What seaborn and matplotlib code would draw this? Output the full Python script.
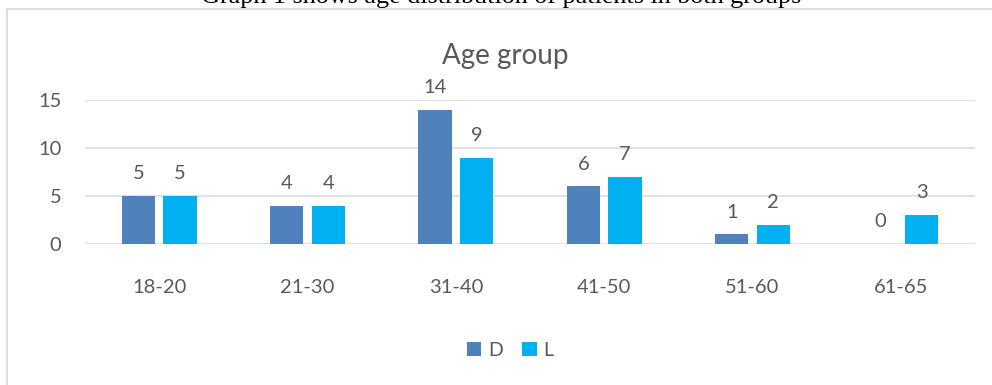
import matplotlib
matplotlib.use("Agg")
import matplotlib.pyplot as plt
from matplotlib.lines import Line2D
from matplotlib.patches import Patch
import seaborn as sns
import pandas as pd

# ---- data ----
categories = ["18-20", "21-30", "31-40", "41-50", "51-60", "61-65"]
d_values = [5, 4, 14, 6, 1, 0]
l_values = [5, 4, 9, 7, 2, 3]
series_names = ["D", "L"]
y_ticks = [0, 5, 10, 15]
chart_title = "Age group"
caption = "Graph 1 shows age distribution of patients in both groups"

colors = {"D": "#4F81BD", "L": "#00B0F0"}
text_color = "#595959"
grid_color = "#D9D9D9"

df = pd.DataFrame({
    "category": categories * 2,
    "series": [series_names[0]] * len(categories) + [series_names[1]] * len(categories),
    "value": d_values + l_values,
})

sns.set_theme(style="white")
plt.rcParams["font.family"] = ["Lato", "DejaVu Sans"]

fig = plt.figure(figsize=(9.92, 3.85), dpi=100)
ax = fig.add_axes([85 / 992, 1 - 244 / 385, (975 - 85) / 992, (244 - 100) / 385])

sns.barplot(data=df, x="category", y="value", hue="series", order=categories,
            hue_order=series_names, palette=colors, width=0.56, gap=0.2,
            linewidth=0, saturation=1, ax=ax, legend=False)

ax.set_ylim(0, 15)
ax.set_xlim(-0.5, len(categories) - 0.5)
ax.set_yticks(y_ticks)
ax.set_xlabel("")
ax.set_ylabel("")
for s in ax.spines.values():
    s.set_visible(False)
ax.yaxis.grid(True, color=grid_color, linewidth=1.1)
ax.set_axisbelow(True)
ax.tick_params(axis="both", length=0, labelsize=14.5, labelcolor=text_color)
ax.tick_params(axis="x", pad=25)
ax.tick_params(axis="y", pad=17)

for cont in ax.containers:
    ax.bar_label(cont, padding=10, fontsize=14.5, color=text_color)

# chart title
fig.text(505 / 992, 1 - 56 / 385, chart_title, ha="center", va="center",
         fontsize=20, color=text_color, fontweight="normal")

# legend
handles = [Patch(facecolor=colors[n], edgecolor="none", label=n) for n in series_names]
leg = fig.legend(handles=handles, loc="center", bbox_to_anchor=(510 / 992, 1 - 350 / 385),
                 ncol=2, frameon=False, fontsize=14, handlelength=0.75, handleheight=0.75,
                 handletextpad=0.35, columnspacing=1.0)
for t in leg.get_texts():
    t.set_color(text_color)

# chart-area frame (left and top edges visible)
lw = 1.2
fig.add_artist(Line2D([7 / 992, 7 / 992], [0, 1 - 9 / 385], color=grid_color,
                      linewidth=lw, transform=fig.transFigure))
fig.add_artist(Line2D([7 / 992, 1], [1 - 9 / 385, 1 - 9 / 385], color=grid_color,
                      linewidth=lw, transform=fig.transFigure))

# caption above the chart (clipped by the top edge, as in the reference)
fig.text(501 / 992, 1 - 3.5 / 385, caption, ha="center", va="baseline",
         fontsize=18.8, color="black", family=["Liberation Serif", "DejaVu Serif"])

fig.savefig("out.png", dpi=100)
